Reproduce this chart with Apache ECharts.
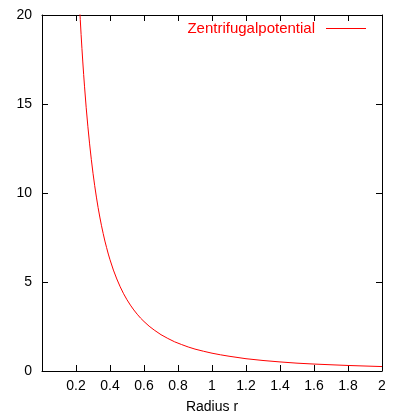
<!DOCTYPE html>
<html>
<head>
<meta charset="utf-8">
<script src="https://cdn.jsdelivr.net/npm/echarts@6/dist/echarts.min.js"></script>
<style>
  html, body { margin: 0; padding: 0; background: #fff; }
  #chart { width: 401px; height: 417px; }
</style>
</head>
<body>
<div id="chart"></div>
<script>
// Radius r and potential values
const radius = [0.22, 0.225, 0.23, 0.235, 0.24, 0.245, 0.25, 0.26, 0.27, 0.28, 0.29, 0.30, 0.31, 0.32, 0.33, 0.34, 0.35, 0.36, 0.37, 0.38, 0.39, 0.40, 0.42, 0.44, 0.46, 0.48, 0.50, 0.52, 0.54, 0.56, 0.58, 0.60, 0.63, 0.66, 0.70, 0.74, 0.78, 0.82, 0.86, 0.90, 0.95, 1.00, 1.05, 1.10, 1.20, 1.30, 1.40, 1.50, 1.60, 1.70, 1.80, 1.90, 2.00];
const potential = [20.66, 19.75, 18.9, 18.11, 17.36, 16.66, 16.0, 14.79, 13.72, 12.76, 11.89, 11.11, 10.41, 9.77, 9.18, 8.65, 8.16, 7.72, 7.30, 6.93, 6.57, 6.25, 5.67, 5.17, 4.73, 4.34, 4.0, 3.70, 3.43, 3.19, 2.97, 2.78, 2.52, 2.30, 2.04, 1.83, 1.64, 1.49, 1.35, 1.23, 1.11, 1.0, 0.91, 0.83, 0.69, 0.59, 0.51, 0.44, 0.39, 0.35, 0.31, 0.28, 0.25];
const xTicks = { min: 0, max: 2, interval: 0.2 };
const yTicks = { min: 0, max: 20, interval: 5 };
const seriesName = 'Zentrifugalpotential';

const font = 'Liberation Sans, Arial, Helvetica, sans-serif';
const frame = { show: true, onZero: false, lineStyle: { color: '#000', width: 1 } };
const ticks = { show: true, inside: true, length: 6, lineStyle: { color: '#000', width: 1 } };

const chart = echarts.init(document.getElementById('chart'));
chart.setOption({
  animation: false,
  grid: { left: 42, right: 19, top: 15, bottom: 46, outerBoundsMode: 'none' },
  legend: {
    data: [seriesName],
    right: 30,
    top: 16,
    align: 'right',
    icon: 'rect',
    itemWidth: 40,
    itemHeight: 1,
    itemStyle: { color: '#ff0000' },
    textStyle: { color: '#ff0000', fontSize: 15, fontFamily: font, padding: [0, 6, 0, 0] }
  },
  xAxis: [
    {
      type: 'value', position: 'bottom', ...xTicks,
      axisLine: frame, axisTick: ticks, splitLine: { show: false },
      axisLabel: {
        color: '#000', fontSize: 14, fontFamily: font, margin: 8,
        formatter: (v) => (v === 0 ? '' : String(+v.toFixed(1)))
      },
      name: 'Radius r', nameLocation: 'middle', nameGap: 29,
      nameTextStyle: { color: '#000', fontSize: 14, fontFamily: font }
    },
    {
      type: 'value', position: 'top', ...xTicks,
      axisLine: frame, axisTick: ticks, axisLabel: { show: false }, splitLine: { show: false }
    }
  ],
  yAxis: [
    {
      type: 'value', position: 'left', ...yTicks,
      axisLine: frame, axisTick: ticks, splitLine: { show: false },
      axisLabel: { color: '#000', fontSize: 14, fontFamily: font, margin: 10 }
    },
    {
      type: 'value', position: 'right', ...yTicks,
      axisLine: frame, axisTick: ticks, axisLabel: { show: false }, splitLine: { show: false }
    }
  ],
  series: [
    {
      name: seriesName,
      type: 'line',
      data: radius.map((r, i) => [r, potential[i]]),
      showSymbol: false,
      clip: true,
      lineStyle: { color: '#ff0000', width: 1 },
      itemStyle: { color: '#ff0000' }
    }
  ]
});
</script>
</body>
</html>
